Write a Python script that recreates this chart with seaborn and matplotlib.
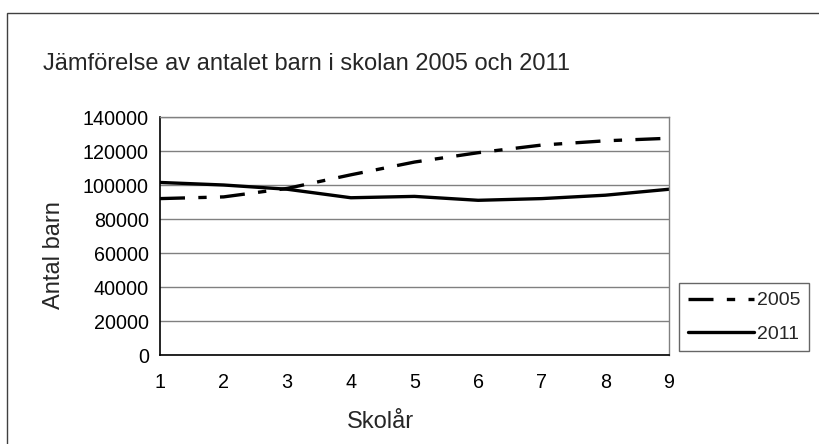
import matplotlib
matplotlib.use("Agg")
import matplotlib.pyplot as plt
import seaborn as sns
import pandas as pd
from matplotlib.patches import Rectangle
from matplotlib.lines import Line2D

# Data
skolar = [1, 2, 3, 4, 5, 6, 7, 8, 9]
v2005 = [92000, 93000, 98000, 106000, 113500, 119000, 123500, 126000, 127500]
v2011 = [101500, 100000, 97500, 92500, 93300, 91000, 92000, 94000, 97500]
series = ["2005", "2011"]
title = "Jämförelse av antalet barn i skolan 2005 och 2011"
xlabel = "Skolår"
ylabel = "Antal barn"
yticks = [0, 20000, 40000, 60000, 80000, 100000, 120000, 140000]

df = pd.DataFrame({
    "Skolår": skolar * 2,
    "Antal": v2005 + v2011,
    "Serie": [series[0]] * len(skolar) + [series[1]] * len(skolar),
})

sns.set_style("white")
plt.rcParams["font.family"] = ["Liberation Sans", "DejaVu Sans"]

W, H = 819, 444
LW = 2.4
DASH = (7.5, 4, 2.5, 4)
fig = plt.figure(figsize=(W / 100, H / 100), dpi=100)
ax = fig.add_axes([160 / W, 1 - 355 / H, (669 - 160) / W, (355 - 117) / H])

sns.lineplot(
    data=df, x="Skolår", y="Antal", style="Serie", ax=ax,
    color="black", linewidth=LW,
    dashes={"2005": DASH, "2011": ""},
    legend=False,
)

ax.set_xlim(1, 9)
ax.set_ylim(0, 140000)
ax.set_xticks(skolar)
ax.set_xticklabels([str(s) for s in skolar])
ax.set_yticks(yticks)
ax.set_yticklabels([str(t) for t in yticks])
ax.tick_params(axis="both", labelsize=14.2, colors="black", length=5,
               width=1, direction="out", pad=3)
ax.tick_params(axis="x", pad=8)
ax.grid(axis="y", color="#808080", linewidth=1)
ax.set_axisbelow(True)
for s in ["left", "bottom"]:
    ax.spines[s].set_color("black")
    ax.spines[s].set_linewidth(1.2)
for s in ["right", "top"]:
    ax.spines[s].set_color("#808080")
    ax.spines[s].set_linewidth(1)

ax.set_xlabel("")
ax.set_ylabel("")
fig.text(380 / W, 1 - 422 / H, xlabel, fontsize=17, ha="center", va="center")
fig.text(54 / W, 1 - 255 / H, ylabel, fontsize=17, ha="center", va="center",
         rotation=90)
fig.text(43 / W, 1 - 70 / H, title, fontsize=17, ha="left", va="baseline")

# Legend
handles = [
    Line2D([], [], color="black", lw=LW, dashes=DASH),
    Line2D([], [], color="black", lw=LW),
]
leg = fig.legend(
    handles, series, loc="upper left",
    bbox_to_anchor=(679 / W, 1 - 283 / H),
    fontsize=14, frameon=True, fancybox=False,
    edgecolor="#404040", handlelength=3.4, handletextpad=0.15,
    borderaxespad=0, borderpad=0.45, labelspacing=0.8,
)
leg.get_frame().set_linewidth(1)

# Outer chart border
fig.patches.append(Rectangle((7 / W, -0.2), 1.2, (1 - 13 / H) + 0.2,
                             transform=fig.transFigure, fill=False,
                             edgecolor="#404040", linewidth=1))

fig.savefig("out.png", dpi=100)
